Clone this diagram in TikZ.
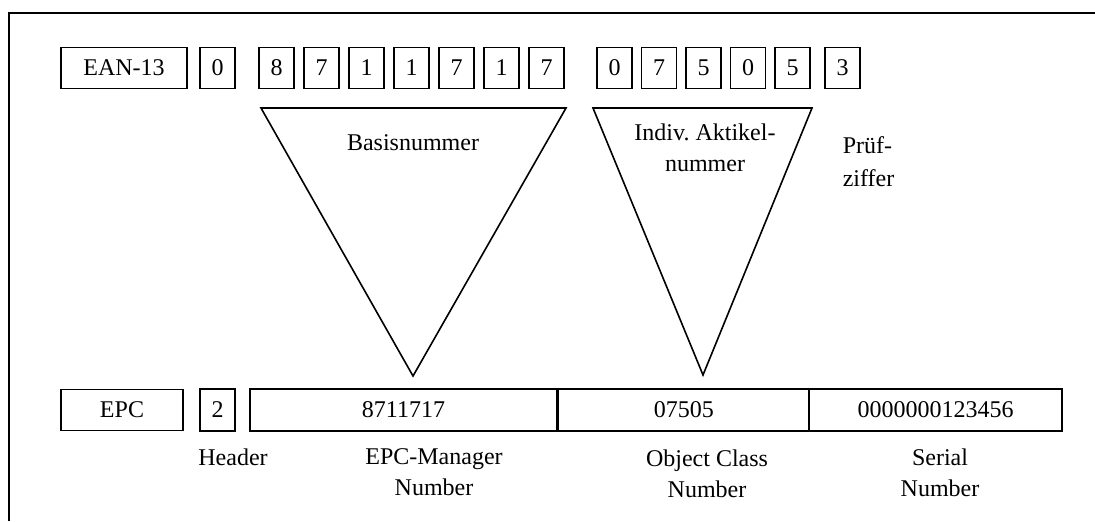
\documentclass[tikz,border=0pt]{standalone}
\usepackage{fontspec}
\setmainfont{Liberation Serif}
\usetikzlibrary{positioning}

\begin{document}
\begin{tikzpicture}[x=0.5pt, y=-0.5pt, line width=0.8pt,
    every node/.style={font=\fontsize{12}{15.5}\selectfont},
    field/.style={draw, minimum height=20.5pt, inner sep=0pt},
    digit/.style={field, minimum width=17.5pt},
    lbl/.style={align=center, inner sep=0pt}]
        \useasboundingbox (0,0) rectangle (1095,521);

        % Frame
        \coordinate (frameBL) at (9,521);
        \coordinate (frameTL) at (9,13);
        \coordinate (frameTR) at (1095,13);
        \draw (frameBL) -- (frameTL) -- (frameTR);

        % EAN-13 row
        \node[field, minimum width=63pt] (ean) at (124,68) {EAN-13};
        \node[digit] (lead) at (217.5,68) {0};
        \foreach \d [count=\i] in {8,7,1,1,7,1,7}
            \node[digit] (base\i) at ({231.5+45*\i},68) {\d};
        \foreach \d [count=\i] in {0,7,5,0,5}
            \node[digit] (item\i) at ({570+44.5*\i},68) {\d};
        \node[digit] (check) at (842.5,68) {3};

        % EPC row
        \node[field, minimum width=61pt] (epc) at (122,410) {EPC};
        \node[digit, minimum height=21pt] (header) at (217.5,410) {2};
        \node[field, minimum width=153.5pt, minimum height=21pt] (manager) at (403.5,410) {8711717};
        \node[field, minimum width=125.25pt, minimum height=21pt] (objclass) at (683.75,410) {07505};
        \node[field, minimum width=126.5pt, minimum height=21pt] (serial) at (935.5,410) {0000000123456};

        % Triangles
        \coordinate (baseL) at (261,108);
        \coordinate (baseR) at (566,108);
        \coordinate (baseTip) at (413,376);
        \coordinate (itemL) at (593,108);
        \coordinate (itemR) at (812,108);
        \coordinate (itemTip) at (703,375);
        \draw (baseL) -- (baseR) -- (baseTip) -- cycle;
        \draw (itemL) -- (itemR) -- (itemTip) -- cycle;

        % Labels
        \node[lbl] (baselbl) at (413,143) {Basisnummer};
        \node[lbl] (itemlbl) at (705,148) {Indiv.\ Aktikel-\\nummer};
        \node[lbl, align=left, anchor=west, font=\fontsize{12}{16.5}\selectfont] (checklbl) at (842,161.5) {Prüf-\\ziffer};
        \node[lbl] (headerlbl) at (233,457) {Header};
        \node[lbl] (managerlbl) at (434,472.5) {EPC-Manager\\Number};
        \node[lbl] (classlbl) at (707,473.5) {Object Class\\Number};
        \node[lbl] (seriallbl) at (940,472.5) {Serial\\Number};

\end{tikzpicture}
\end{document}
